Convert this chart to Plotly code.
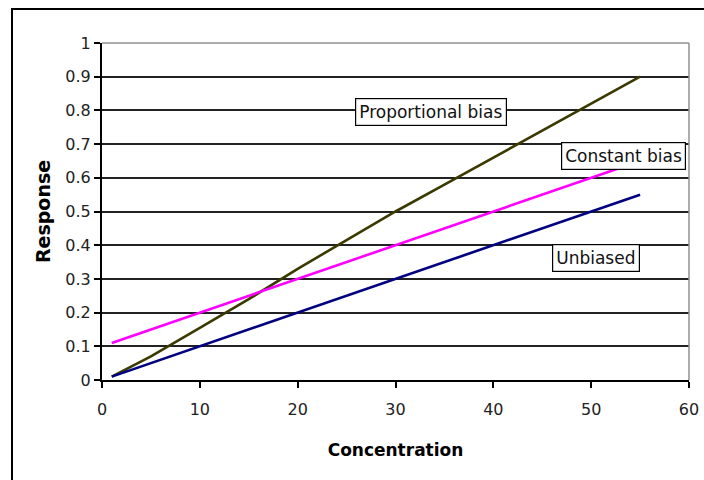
import plotly.graph_objects as go

concentration = [1, 5, 10, 15, 20, 25, 30, 35, 40, 45, 50, 55]
unbiased = [0.01, 0.05, 0.10, 0.15, 0.20, 0.25, 0.30, 0.35, 0.40, 0.45, 0.50, 0.55]
constant_bias = [0.11, 0.15, 0.20, 0.25, 0.30, 0.35, 0.40, 0.45, 0.50, 0.55, 0.60, 0.65]
proportional_bias = [0.01, 0.07, 0.155, 0.24, 0.33, 0.415, 0.50, 0.58, 0.66, 0.74, 0.82, 0.90]

series_names = ["Proportional bias", "Constant bias", "Unbiased"]
series_colors = ["#3a3a00", "#ff00ff", "#000080"]
series_values = [proportional_bias, constant_bias, unbiased]

# label positions (data coords)
label_x = [33.6, 53.3, 50.5]
label_y = [0.795, 0.666, 0.362]

FONT = "DejaVu Sans, sans-serif"

L, R, T, B = 102, 15, 43, 100
W, H = 704, 480
pw, ph = W - L - R, H - T - B

fig = go.Figure()
for name, color, vals in zip(series_names, series_colors, series_values):
    fig.add_trace(go.Scatter(x=concentration, y=vals, mode="lines", name=name,
                             line=dict(color=color, width=2.6)))

for name, lx, ly in zip(series_names, label_x, label_y):
    fig.add_annotation(x=lx, y=ly, text=name, showarrow=False,
                       font=dict(family=FONT, size=17, color="#111111"),
                       bgcolor="white", bordercolor="black", borderwidth=1.2, borderpad=3)

# plot area border (gray top/right)
fig.add_shape(type="line", xref="paper", yref="paper", x0=0, x1=1, y0=1, y1=1,
              line=dict(color="#909090", width=1.5), layer="above")
fig.add_shape(type="line", xref="paper", yref="paper", x0=1, x1=1, y0=0, y1=1,
              line=dict(color="#909090", width=1.5), layer="above")
# outer chart border (right and bottom edges fall outside the picture)
fig.add_shape(type="rect", xref="paper", yref="paper",
              x0=(12 - L) / pw, x1=1.3,
              y0=-0.5, y1=(H - B - 9) / ph,
              line=dict(color="black", width=2), layer="above")

fig.update_layout(
    width=W, height=H,
    margin=dict(l=L, r=R, t=T, b=B, autoexpand=False),
    paper_bgcolor="white", plot_bgcolor="white",
    showlegend=False,
    font=dict(family=FONT, size=16, color="#222222"),
    xaxis=dict(range=[0, 60], dtick=10, showgrid=False, zeroline=False, automargin=False,
               showline=True, linecolor="black", linewidth=2,
               ticks="outside", ticklen=6, tickcolor="black", tickwidth=1.5,
               ticklabeloverflow="allow", ticklabelstandoff=8,
               tickfont=dict(family=FONT, size=16, color="#222222"),
               title=dict(text="<b>Concentration</b>", font=dict(family=FONT, size=17, color="black"), standoff=26)),
    yaxis=dict(range=[0, 1], dtick=0.1, showgrid=True, gridcolor="#222222", gridwidth=1.5,
               zeroline=False, showline=True, linecolor="black", linewidth=2, automargin=False,
               ticks="outside", ticklen=6, tickcolor="black", tickwidth=1.5,
               tickfont=dict(family=FONT, size=16, color="#222222"),
               title=dict(text="<b>Response</b>", font=dict(family=FONT, size=19, color="black"), standoff=10)),
)

fig.write_html("out.html")
